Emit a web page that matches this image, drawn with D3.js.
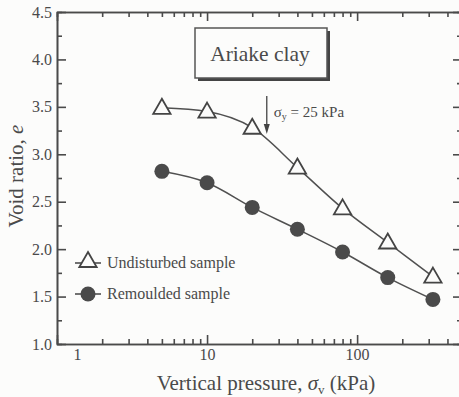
<!DOCTYPE html>
<html>
<head>
<meta charset="utf-8">
<script src="https://cdn.jsdelivr.net/npm/d3@7"></script>
<style>
  body { margin: 0; background: #fcfcfb; }
  svg { display: block; }
  text { font-family: "Liberation Serif", "DejaVu Serif", serif; fill: #4a4a4a; }
  .axis path, .axis line { stroke: #4a4a4a; stroke-width: 1.6; }
  .curve { fill: none; stroke: #505050; stroke-width: 1.5; }
</style>
</head>
<body>
<div id="chart"></div>
<script>
const ctx = {
    W: 459,
    H: 397,
    LEFT: 57,
    TOP: 12,
    BOTTOM: 344,
    RIGHT: 462,
};

// vertical pressure (kPa), log axis
const pressures = [5, 10, 20, 40, 80, 160, 320];
// void ratio e
const undisturbed = [3.49, 3.45, 3.28, 2.86, 2.43, 2.07, 1.71];
const remoulded = [2.82, 2.70, 2.44, 2.21, 1.97, 1.70, 1.47];

const xMajor = [1, 10, 100];
const xMinor = [2, 3, 4, 5, 6, 7, 8, 9, 20, 30, 40, 50, 60, 70, 80, 90, 200, 300, 400];
const yMajor = [1.0, 1.5, 2.0, 2.5, 3.0, 3.5, 4.0, 4.5];
const yMinor = [1.25, 1.75, 2.25, 2.75, 3.25, 3.75, 4.25];
const yieldStress = 25;

function makeChart(){
    let svg = d3.select("#chart").append("svg")
                .attr("width", ctx.W)
                .attr("height", ctx.H);

    let x = d3.scaleLog().domain([1, 500]).range([ctx.LEFT, ctx.RIGHT]);
    let y = d3.scaleLinear().domain([1.0, 4.5]).range([ctx.BOTTOM, ctx.TOP]);

    // frame ticks, all pointing inward
    let g = svg.append("g").attr("class", "axis");
    g.append("g").attr("transform", `translate(0,${ctx.BOTTOM})`)
     .call(d3.axisBottom(x).tickValues(xMinor).tickSize(-5).tickFormat(""));
    g.append("g").attr("transform", `translate(0,${ctx.BOTTOM})`)
     .call(d3.axisBottom(x).tickValues(xMajor).tickSize(-9).tickSizeOuter(0)
     .tickPadding(5).tickFormat(d3.format("d")))
     .call(a => a.selectAll("text").attr("font-size", 16)
     .attr("transform", d => d === 1 ? "translate(20,0)" : null));
    g.append("g").attr("transform", `translate(0,${ctx.TOP})`)
     .call(d3.axisTop(x).tickValues(xMinor).tickSize(-5).tickFormat(""));
    g.append("g").attr("transform", `translate(0,${ctx.TOP})`)
     .call(d3.axisTop(x).tickValues(xMajor).tickSize(-9).tickSizeOuter(0).tickFormat(""));

    g.append("g").attr("transform", `translate(${ctx.LEFT},0)`)
     .call(d3.axisLeft(y).tickValues(yMinor).tickSize(-5).tickFormat(""));
    g.append("g").attr("transform", `translate(${ctx.LEFT},0)`)
     .call(d3.axisLeft(y).tickValues(yMajor).tickSize(-9).tickSizeOuter(0)
     .tickPadding(5).tickFormat(d3.format(".1f")))
     .call(a => a.selectAll("text").attr("font-size", 16));
    g.append("g").attr("transform", `translate(${ctx.RIGHT},0)`)
     .call(d3.axisRight(y).tickValues(yMinor).tickSize(-5).tickFormat(""));
    g.append("g").attr("transform", `translate(${ctx.RIGHT},0)`)
     .call(d3.axisRight(y).tickValues(yMajor).tickSize(-9).tickSizeOuter(0).tickFormat(""));
    g.selectAll(".domain").attr("stroke-width", 2);

    let line = d3.line().curve(d3.curveMonotoneX);
    let tri = d3.symbol().type(d3.symbolTriangle).size(130);

    // undisturbed
    let upts = pressures.map((p, i) => [x(p), y(undisturbed[i])]);
    svg.append("path").attr("class", "curve").attr("d", line(upts));
    svg.append("g").selectAll("path").data(upts).enter().append("path")
       .attr("d", tri)
       .attr("transform", d => `translate(${d[0]},${d[1] + 1})`)
       .attr("fill", "#fcfcfb").attr("stroke", "#444").attr("stroke-width", 1.8);

    // remoulded
    let rpts = pressures.map((p, i) => [x(p), y(remoulded[i])]);
    svg.append("path").attr("class", "curve").attr("d", line(rpts));
    svg.append("g").selectAll("circle").data(rpts).enter().append("circle")
       .attr("cx", d => d[0]).attr("cy", d => d[1]).attr("r", 7.5)
       .attr("fill", "#4a4a4a");

    // title box with drop shadow
    svg.append("rect").attr("x", 198).attr("y", 31).attr("width", 132).attr("height", 50)
       .attr("fill", "#444");
    svg.append("rect").attr("x", 195).attr("y", 28).attr("width", 132).attr("height", 50)
       .attr("fill", "#fcfcfb").attr("stroke", "#555").attr("stroke-width", 1.5);
    svg.append("text").attr("x", 260).attr("y", 61).attr("text-anchor", "middle")
       .attr("font-size", 21.5).text("Ariake clay");

    // yield stress arrow
    let ax = x(yieldStress);
    svg.append("line").attr("x1", ax).attr("x2", ax).attr("y1", 96).attr("y2", 130)
       .attr("stroke", "#444").attr("stroke-width", 1.3);
    svg.append("path").attr("d", `M${ax - 3},${124}L${ax},${134}L${ax + 3},${124}Z`)
       .attr("fill", "#444");
    let lab = svg.append("text").attr("x", ax + 7).attr("y", 117).attr("font-size", 15);
    lab.append("tspan").text("σ");
    lab.append("tspan").attr("font-size", 10).attr("dy", 3).text("y");
    lab.append("tspan").attr("dy", -3).text(" = 25 kPa");

    // legend
    let leg = svg.append("g");
    leg.append("line").attr("x1", 75).attr("x2", 101).attr("y1", 263).attr("y2", 263)
       .attr("stroke", "#444").attr("stroke-width", 1.5);
    leg.append("path").attr("d", tri).attr("transform", "translate(88,262)")
       .attr("fill", "#fcfcfb").attr("stroke", "#444").attr("stroke-width", 1.8);
    leg.append("text").attr("x", 107).attr("y", 268).attr("font-size", 16).text("Undisturbed sample");
    leg.append("line").attr("x1", 75).attr("x2", 101).attr("y1", 294).attr("y2", 294)
       .attr("stroke", "#444").attr("stroke-width", 1.5);
    leg.append("circle").attr("cx", 88).attr("cy", 294).attr("r", 7.5).attr("fill", "#4a4a4a");
    leg.append("text").attr("x", 107).attr("y", 299).attr("font-size", 16).text("Remoulded sample");

    // axis titles
    let xt = svg.append("text").attr("x", 266).attr("y", 390).attr("text-anchor", "middle")
                .attr("font-size", 21);
    xt.append("tspan").text("Vertical pressure, ");
    xt.append("tspan").attr("font-style", "italic").text("σ");
    xt.append("tspan").attr("font-size", 13).attr("dy", 4).text("v");
    xt.append("tspan").attr("dy", -4).text(" (kPa)");

    let yt = svg.append("text").attr("transform", "translate(23,176) rotate(-90)")
                .attr("text-anchor", "middle").attr("font-size", 21);
    yt.append("tspan").text("Void ratio, ");
    yt.append("tspan").attr("font-style", "italic").text("e");
}

makeChart();
</script>
</body>
</html>
